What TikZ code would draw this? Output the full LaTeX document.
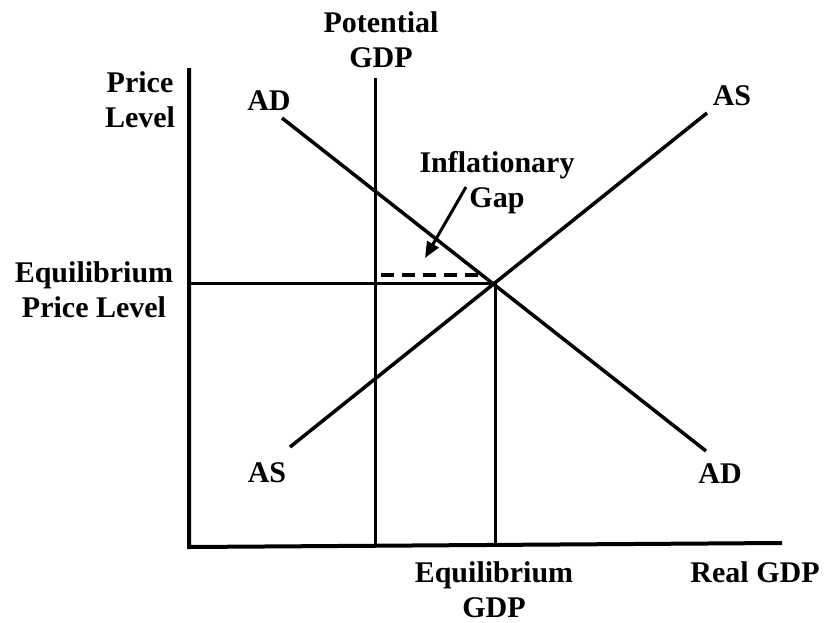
\documentclass[tikz,border=0pt]{standalone}
\usepackage{fontspec}
\setmainfont{Liberation Serif}
\usetikzlibrary{arrows.meta}
\begin{document}
\begin{tikzpicture}[x=1pt,y=-1pt,
  lbl/.style={font=\fontsize{30}{35}\selectfont\bfseries, inner sep=0pt, align=center, anchor=base},
  axisline/.style={line width=4pt, line cap=rect},
  curve/.style={line width=3.5pt},
  guide/.style={line width=3pt},
  gapline/.style={line width=3.5pt, dash pattern=on 13pt off 8pt},
  pointer/.style={line width=3pt, -{Triangle[length=16pt,width=13pt]}}]
\useasboundingbox (0,0) rectangle (827,622);
% axes
\coordinate (ytop) at (189,70);
\coordinate (origin) at (189,547);
\coordinate (xend) at (780,543);
\draw[axisline] (ytop) -- (origin) -- (xend);
% potential GDP line
\coordinate (pot1) at (375,78);
\coordinate (pot2) at (375,546);
\draw[guide] (pot1) -- (pot2);
% equilibrium lines
\coordinate (eq) at (495,283);
\coordinate (eqy) at (189,283);
\coordinate (eqx) at (495,545);
\draw[guide] (eqy) -- (eq) -- (eqx);
% AD and AS
\coordinate (ad1) at (282,118);
\coordinate (ad2) at (706,451);
\coordinate (as1) at (290,447);
\coordinate (as2) at (707,113);
\draw[curve] (ad1) -- (ad2);
\draw[curve] (as1) -- (as2);
% inflationary gap dashed line
\coordinate (gap1) at (381,275);
\coordinate (gap2) at (478,275);
\draw[gapline] (gap1) -- (gap2);
% labels (base = baseline of last line)
\node[lbl] (potlbl) at (381,67) {Potential\\GDP};
\node[lbl] (pricelbl) at (140,127) {Price\\Level};
\node[lbl] (adtop) at (269,110) {AD};
\node[lbl] (astop) at (732,105) {AS};
\node[lbl] (inflbl) at (497,207) {Inflationary\\Gap};
\node[lbl] (eqplbl) at (94,317) {Equilibrium\\Price Level};
\node[lbl] (asbot) at (267,482) {AS};
\node[lbl] (adbot) at (720,483) {AD};
\node[lbl] (eqglbl) at (494,617) {Equilibrium\\GDP};
\node[lbl] (reallbl) at (755,582) {Real GDP};
% arrow
\coordinate (arrstart) at (466,187);
\coordinate (arrtip) at (425,258);
\draw[pointer] (arrstart) -- (arrtip);
\end{tikzpicture}
\end{document}
